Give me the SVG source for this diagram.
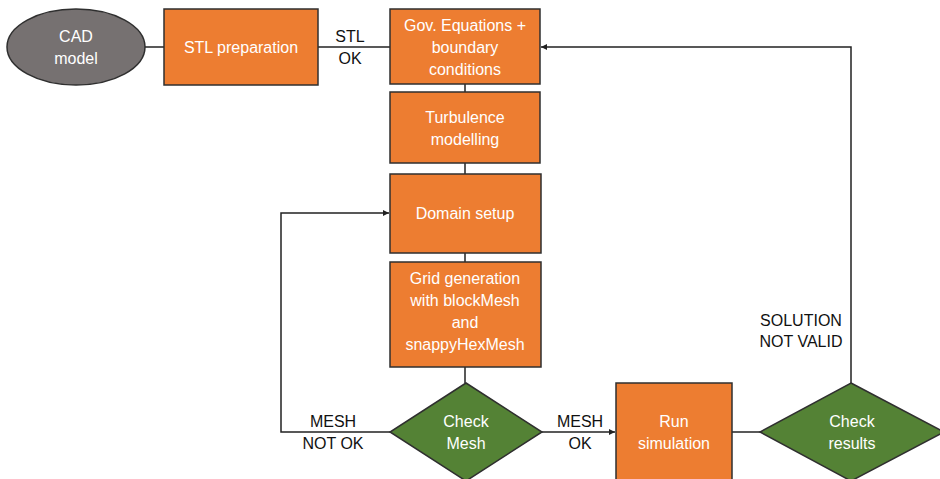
<svg xmlns="http://www.w3.org/2000/svg" width="940" height="479" viewBox="0 0 940 479">
<style>
.box{fill:#ED7D31;stroke:#2F2F2F;stroke-width:1.5}
.dia{fill:#548235;stroke:#2F2F2F;stroke-width:1.5}
.ell{fill:#767171;stroke:#2F2F2F;stroke-width:1.5}
.t{font-family:"Liberation Sans",Arial,sans-serif;font-size:16px;fill:#fff;text-anchor:middle}
.l{font-family:"Liberation Sans",Arial,sans-serif;font-size:16px;fill:#111;text-anchor:middle}
.c{fill:none;stroke:#222;stroke-width:1.5}
</style>
<defs>
<marker id="ah" viewBox="0 0 10 10" refX="10" refY="5" markerWidth="6" markerHeight="6" orient="auto" markerUnits="userSpaceOnUse">
<path d="M0,0 L10,5 L0,10 z" fill="#222"/>
</marker>
</defs>
<rect width="940" height="479" fill="#fff"/>
<g id="connectors">
<line class="c" x1="145" y1="47" x2="164" y2="47"/>
<line class="c" x1="318" y1="47" x2="390" y2="47"/>
<line class="c" x1="465" y1="84" x2="465" y2="92"/>
<line class="c" x1="465" y1="163" x2="465" y2="174"/>
<line class="c" x1="465" y1="253" x2="465" y2="262"/>
<line class="c" x1="465" y1="367" x2="465" y2="383"/>
<polyline class="c" points="390,432 281,432 281,213 389,213" marker-end="url(#ah)"/>
<line class="c" x1="542" y1="432" x2="615" y2="432" marker-end="url(#ah)"/>
<line class="c" x1="732" y1="432" x2="760" y2="432"/>
<polyline class="c" points="851,383 851,47 541,47" marker-end="url(#ah)"/>
<text class="l" x="350" y="42">STL</text>
<text class="l" x="350" y="64">OK</text>
<text class="l" x="333" y="427">MESH</text>
<text class="l" x="333" y="449">NOT OK</text>
<text class="l" x="580" y="427">MESH</text>
<text class="l" x="580" y="449">OK</text>
<text class="l" x="801" y="326">SOLUTION</text>
<text class="l" x="801" y="347">NOT VALID</text>
</g>
<g id="cad">
<ellipse class="ell" cx="76" cy="47" rx="69" ry="38"/>
<text class="t" x="76" y="42">CAD</text>
<text class="t" x="76" y="64">model</text>
</g>
<g id="stl">
<rect class="box" x="164" y="9" width="154" height="76"/>
<text class="t" x="241" y="53">STL preparation</text>
</g>
<g id="gov">
<rect class="box" x="390" y="9" width="150" height="75"/>
<text class="t" x="465" y="31">Gov. Equations +</text>
<text class="t" x="465" y="53">boundary</text>
<text class="t" x="465" y="75">conditions</text>
</g>
<g id="turb">
<rect class="box" x="390" y="92" width="150" height="71"/>
<text class="t" x="465" y="123">Turbulence</text>
<text class="t" x="465" y="145">modelling</text>
</g>
<g id="domain">
<rect class="box" x="390" y="174" width="151" height="79"/>
<text class="t" x="465" y="219">Domain setup</text>
</g>
<g id="grid">
<rect class="box" x="390" y="262" width="151" height="105"/>
<text class="t" x="465" y="284">Grid generation</text>
<text class="t" x="465" y="306">with blockMesh</text>
<text class="t" x="465" y="328">and</text>
<text class="t" x="465" y="350">snappyHexMesh</text>
</g>
<g id="checkmesh">
<polygon class="dia" points="466,383 542,432 466,481 390,432"/>
<text class="t" x="466" y="427">Check</text>
<text class="t" x="466" y="449">Mesh</text>
</g>
<g id="run">
<rect class="box" x="616" y="383" width="116" height="110"/>
<text class="t" x="674" y="427">Run</text>
<text class="t" x="674" y="449">simulation</text>
</g>
<g id="checkres">
<polygon class="dia" points="851,383 944,432 851,481 760,432"/>
<text class="t" x="852" y="427">Check</text>
<text class="t" x="852" y="449">results</text>
</g>
</svg>
